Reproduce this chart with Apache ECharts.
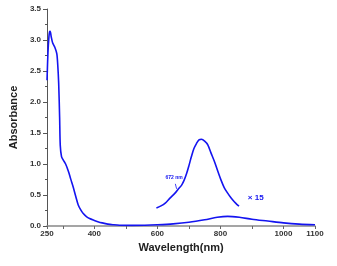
<!DOCTYPE html>
<html><head><meta charset="utf-8">
<script src="https://cdn.jsdelivr.net/npm/echarts@6/dist/echarts.min.js"></script>
<style>html,body{margin:0;padding:0;background:#fff}#c{width:337px;height:266px}</style>
</head><body><div id="c"></div>
<script>
const mainWl = [250,253,256,258,260,263,268,275,281,284,287,290,292,296,302,309,318,325,333,341,349,357,365,375,385,400,411,425,443,460,480,520,560,600,650,700,750,790,823,860,900,950,1000,1050,1100];
const mainAbs = [2.35,2.8,3.05,3.13,3.14,3.06,2.95,2.88,2.78,2.6,2.3,1.75,1.3,1.12,1.06,1.0,0.88,0.76,0.63,0.48,0.34,0.26,0.2,0.15,0.12,0.09,0.07,0.05,0.03,0.02,0.012,0.01,0.012,0.02,0.035,0.06,0.1,0.14,0.155,0.14,0.11,0.08,0.05,0.03,0.02];
const magWl = [597,610,625,640,656,667,677,685,693,700,708,716,724,732,740,750,760,770,781,792,802,812,823,834,844,852,859];
const magAbs = [0.29,0.32,0.37,0.45,0.53,0.6,0.66,0.74,0.85,0.97,1.12,1.25,1.33,1.39,1.40,1.37,1.31,1.18,1.04,0.88,0.74,0.62,0.53,0.45,0.39,0.35,0.32];
const xLabelValues = [250,400,600,800,1000,1100];
const xTickValues = [250,300,400,500,600,700,800,900,1000,1100];
const peakNote = '672 nm';
const scaleNote = '× 15';
const blue = '#1414f0';
const font = 'Liberation Sans, Arial, sans-serif';
const chart = echarts.init(document.getElementById('c'));
const noteLabel = (txt, size) => ({show:true,position:'inside',formatter:txt,fontSize:size,fontFamily:font,fontWeight:'bold',color:blue});
chart.setOption({
  animation:false,
  grid:{left:45,right:22,top:9,bottom:40},
  xAxis:{type:'value',min:250,max:1100,
    name:'Wavelength(nm)',nameLocation:'middle',nameGap:16,
    nameTextStyle:{fontFamily:font,fontWeight:'bold',fontSize:11,color:'#222'},
    axisLine:{lineStyle:{color:'#888',width:1.5}},
    axisTick:{customValues:xTickValues,length:3,lineStyle:{color:'#666'}},
    axisLabel:{customValues:xLabelValues,formatter:v=>String(v),fontFamily:font,fontWeight:'bold',fontSize:8,color:'#333',margin:4},
    splitLine:{show:false}},
  yAxis:{type:'value',min:0,max:3.5,interval:0.5,
    name:'Absorbance',nameLocation:'middle',nameGap:26,nameRotate:90,
    nameTextStyle:{fontFamily:font,fontWeight:'bold',fontSize:11,color:'#222'},
    axisLine:{show:true,lineStyle:{color:'#555',width:1}},
    axisTick:{show:true,length:4,lineStyle:{color:'#555'}},
    minorTick:{show:true,splitNumber:2,length:2,lineStyle:{color:'#555'}},
    axisLabel:{formatter:v=>v.toFixed(1),fontFamily:font,fontWeight:'bold',fontSize:8,color:'#333',margin:6},
    splitLine:{show:false}},
  series:[
    {type:'line',data:mainWl.map((w,i)=>[w,mainAbs[i]]),smooth:0.3,showSymbol:false,
      lineStyle:{color:blue,width:1.6}},
    {type:'line',data:magWl.map((w,i)=>[w,magAbs[i]]),smooth:0.3,showSymbol:false,
      lineStyle:{color:blue,width:1.6},
      markLine:{silent:true,symbol:'none',label:{show:false},lineStyle:{color:blue,width:0.8,type:'solid'},
        data:[[{coord:[657,0.68]},{coord:[661,0.6]}]]},
      markPoint:{symbol:'circle',symbolSize:1,silent:true,itemStyle:{color:'transparent'},
        data:[
          {coord:[653,0.78],label:noteLabel(peakNote,5)},
          {coord:[912,0.45],label:noteLabel(scaleNote,8)}
        ]}}
  ]
});
</script></body></html>
